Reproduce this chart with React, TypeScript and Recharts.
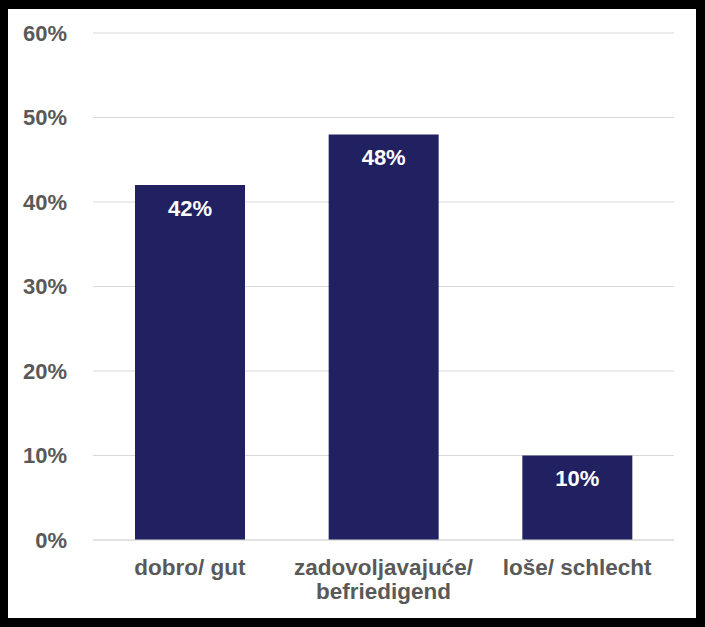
import { BarChart, Bar, XAxis, YAxis, CartesianGrid, LabelList } from "recharts";

const categories = ["dobro/ gut", "zadovoljavajuće/ befriedigend", "loše/ schlecht"];
const shares = [42, 48, 10];
const yTicks = [0, 10, 20, 30, 40, 50, 60];

const data = categories.map((name, i) => ({ name, value: shares[i] }));

const FONT = "'Liberation Sans', Arial, sans-serif";

// long labels break after the slash, like the original
const CategoryTick = ({ x, y, payload }: any) => {
  const label: string = payload.value;
  const lines = label.length > 20 ? label.split(/(?<=\/) /) : [label];
  return (
    <text
      x={x}
      y={y}
      textAnchor="middle"
      fill="#595959"
      fontSize={22.5}
      fontWeight="bold"
      fontFamily={FONT}
    >
      {lines.map((line, i) => (
        <tspan key={i} x={x} dy={i === 0 ? 16 : 24}>
          {line}
        </tspan>
      ))}
    </text>
  );
};

const App = () => {
  return (
    <div
      style={{
        position: "absolute",
        left: 0,
        top: 0,
        width: 705,
        height: 627,
        background: "#000",
      }}
    >
      <div
        style={{
          position: "absolute",
          left: 8,
          top: 9,
          width: 688,
          height: 609,
          background: "#fff",
        }}
      >
        <BarChart
          width={688}
          height={609}
          data={data}
          margin={{ top: 24, right: 22, bottom: 0, left: 0 }}
          barSize={110}
        >
          <CartesianGrid vertical={false} stroke="#d9d9d9" />
          <XAxis
            dataKey="name"
            axisLine={{ stroke: "#d9d9d9" }}
            tickLine={false}
            tickSize={0}
            tickMargin={19}
            height={78}
            interval={0}
            tick={<CategoryTick />}
          />
          <YAxis
            domain={[0, 60]}
            ticks={yTicks}
            tickFormatter={(v: number) => `${v}%`}
            axisLine={false}
            tickLine={false}
            tickSize={0}
            tickMargin={26}
            width={85}
            tick={{ fill: "#595959", fontSize: 22, fontWeight: "bold", fontFamily: FONT }}
          />
          <Bar dataKey="value" fill="#212162" isAnimationActive={false}>
            <LabelList
              dataKey="value"
              position="insideTop"
              offset={15}
              formatter={(v: any) => `${v}%`}
              fill="#fff"
              fontSize={22}
              fontWeight="bold"
              fontFamily={FONT}
            />
          </Bar>
        </BarChart>
      </div>
    </div>
  );
};

export default App;
